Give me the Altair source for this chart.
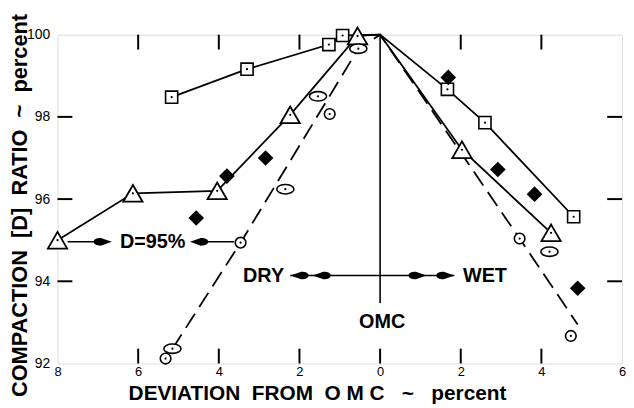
import altair as alt
import pandas as pd

# ---------------- data ----------------
# open squares, solid line
sq_x = [-5.17, -3.30, -1.27, -0.93, 1.67, 2.60, 4.80]
sq_y = [98.48, 99.16, 99.76, 99.98, 98.67, 97.86, 95.57]
# open triangles, solid line
tri_x = [-8.0, -6.13, -4.04, -2.23, -0.56, 2.03, 4.24]
tri_y = [95.0, 96.14, 96.20, 98.05, 99.97, 97.20, 95.18]
# open circles (dashed line series)
cir_x = [-5.32, -3.46, -1.25, 3.46, 4.73]
cir_y = [92.12, 94.94, 98.07, 95.04, 92.67]
# open ellipses
ell_x = [-5.15, -2.35, -1.54, -0.54, 4.20]
ell_y = [92.36, 96.24, 98.50, 99.66, 94.72]
# filled diamonds
dia_x = [-4.56, -3.80, -2.84, 1.69, 2.92, 3.83, 4.90]
dia_y = [95.54, 96.56, 97.00, 98.96, 96.72, 96.12, 93.83]
# OMC apex shared by the lines
apex_x = [0.0]
apex_y = [100.0]
# dashed curve vertices
dash_x = [-5.15, -3.46, -0.54, 0.0, 3.46, 4.90]
dash_y = [92.36, 94.94, 99.66, 100.0, 95.04, 92.95]

# axis ticks
x_ticks = [-8, -6, -4, -2, 0, 2, 4, 6]
y_ticks = [92, 94, 96, 98, 100]
x_inner_bottom = [-6, -4, -2, 0, 2, 4]
x_inner_top = [-6, -4, -2, 2, 4]
y_inner = [94, 96, 98]

# annotations
omc_line_x = [0.0]
omc_line_y = [100.0]
omc_line_y2 = [93.47]
drywet_x = [-2.23]
drywet_x2 = [1.84]
drywet_y = [94.14]
head_right_x = [0.93, 1.62, -6.88]
head_right_y = [94.14, 94.14, 94.96]
head_left_x = [-2.00, -1.45, -4.49]
head_left_y = [94.14, 94.14, 94.96]
d95_x = [-7.75, -4.62]
d95_x2 = [-6.75, -3.62]
d95_y = [94.96, 94.96]
label_text = ["D=95%", "DRY", "WET", "OMC"]
label_x = [-5.64, -2.89, 2.60, 0.05]
label_y = [94.96, 94.12, 94.12, 93.01]

NB = "\u00a0"
x_title = f"DEVIATION{NB}{NB}FROM{NB}{NB}O{NB}M{NB}C{NB}{NB}{NB}~{NB}{NB}{NB}percent"
y_title = f"COMPACTION{NB}{NB}[D]{NB}{NB}RATIO{NB}{NB}~{NB}{NB}percent"

# ---------------- styling ----------------
W, H = 570, 332
FONT = "Liberation Sans"
xs = alt.Scale(domain=[-8, 6], nice=False, zero=False)
ys = alt.Scale(domain=[92, 100], nice=False, zero=False)

x_axis = alt.Axis(values=x_ticks, labelExpr="format(abs(datum.value), 'd')",
                  grid=False, domain=False, ticks=False, tickSize=0,
                  labelFont=FONT, labelFontSize=13, labelColor="black", labelPadding=2,
                  labelFlush=False, labelOverlap=False,
                  title=x_title, titleFont=FONT,
                  titleFontSize=21, titleFontWeight="bold", titleColor="black",
                  titleX=262, titleY=30, titleAlign="center", titleBaseline="middle")
y_axis = alt.Axis(values=y_ticks, grid=False, domain=False, ticks=False, tickSize=0,
                  labelFont=FONT, labelFontSize=14, labelColor="black", labelPadding=8,
                  labelFlush=False, labelOverlap=False,
                  title=y_title, titleFont=FONT,
                  titleFontSize=22, titleFontWeight="bold", titleColor="black",
                  titleAngle=270, titleX=-38, titleY=172, titleAlign="center",
                  titleBaseline="middle")


def X(f="x"):
    return alt.X(f"{f}:Q", scale=xs, axis=x_axis)


def Y(f="y"):
    return alt.Y(f"{f}:Q", scale=ys, axis=y_axis)


def df(xv, yv):
    return pd.DataFrame({"x": xv, "y": yv})


ELLIPSE = "M-1,0A1,0.55,0,1,0,1,0A1,0.55,0,1,0,-1,0Z"
HEAD = "M1,0L-0.2,-0.42C-0.7,-0.42,-1,-0.25,-1,0C-1,0.25,-0.7,0.42,-0.2,0.42Z"

layers = []

# lines
sq_line = df(sq_x + apex_x, sq_y + apex_y)
tri_line = df(tri_x + apex_x, tri_y + apex_y)
layers.append(alt.Chart(sq_line).mark_line(color="black", strokeWidth=1.8).encode(x=X(), y=Y()))
layers.append(alt.Chart(tri_line).mark_line(color="black", strokeWidth=1.8).encode(x=X(), y=Y()))
layers.append(alt.Chart(df(dash_x, dash_y)).mark_line(color="black", strokeWidth=1.8,
                                                      strokeDash=[17, 8]).encode(x=X(), y=Y()))

# OMC vertical line
layers.append(alt.Chart(pd.DataFrame({"x": omc_line_x, "y": omc_line_y, "y2": omc_line_y2}))
              .mark_rule(color="black", strokeWidth=1.6)
              .encode(x=X(), y=Y(), y2="y2:Q"))
# DRY / WET arrow line
layers.append(alt.Chart(pd.DataFrame({"x": drywet_x, "x2": drywet_x2, "y": drywet_y}))
              .mark_rule(color="black", strokeWidth=1.6)
              .encode(x=X(), x2="x2:Q", y=Y()))
# D=95% arrow lines
layers.append(alt.Chart(pd.DataFrame({"x": d95_x, "x2": d95_x2, "y": d95_y}))
              .mark_rule(color="black", strokeWidth=1.6)
              .encode(x=X(), x2="x2:Q", y=Y()))
# arrow heads
layers.append(alt.Chart(df(head_right_x, head_right_y))
              .mark_point(shape=HEAD, filled=True, color="black", size=340, opacity=1)
              .encode(x=X(), y=Y()))
layers.append(alt.Chart(df(head_left_x, head_left_y))
              .mark_point(shape=HEAD, filled=True, color="black", size=340, opacity=1, angle=180)
              .encode(x=X(), y=Y()))

# inner ticks
layers.append(alt.Chart(pd.DataFrame({"x": x_inner_bottom})).mark_rule(color="black", strokeWidth=2)
              .encode(x=X(), y=alt.value(H), y2=alt.value(H - 15)))
layers.append(alt.Chart(pd.DataFrame({"x": x_inner_top})).mark_rule(color="black", strokeWidth=2)
              .encode(x=X(), y=alt.value(0), y2=alt.value(15)))
layers.append(alt.Chart(pd.DataFrame({"y": y_inner})).mark_rule(color="black", strokeWidth=2)
              .encode(y=Y(), x=alt.value(0), x2=alt.value(15)))
layers.append(alt.Chart(pd.DataFrame({"y": y_inner})).mark_rule(color="black", strokeWidth=2)
              .encode(y=Y(), x=alt.value(W), x2=alt.value(W - 15)))

# markers
layers.append(alt.Chart(df(sq_x, sq_y)).mark_point(shape="square", filled=True, fill="white",
                                                   stroke="black", strokeWidth=1.6, size=150, opacity=1)
              .encode(x=X(), y=Y()))
layers.append(alt.Chart(df(tri_x, tri_y)).mark_point(shape="triangle-up", filled=True, fill="white",
                                                     stroke="black", strokeWidth=1.8, size=380, opacity=1)
              .encode(x=X(), y=Y()))
layers.append(alt.Chart(df(cir_x, cir_y)).mark_point(shape="circle", filled=True, fill="white",
                                                     stroke="black", strokeWidth=1.6, size=115, opacity=1)
              .encode(x=X(), y=Y()))
layers.append(alt.Chart(df(ell_x, ell_y)).mark_point(shape=ELLIPSE, filled=True, fill="white",
                                                     stroke="black", strokeWidth=1.6, size=300, opacity=1)
              .encode(x=X(), y=Y()))
layers.append(alt.Chart(df(dia_x, dia_y)).mark_point(shape="diamond", filled=True, color="black",
                                                     size=250, opacity=1)
              .encode(x=X(), y=Y()))
# centre dots of the open markers
layers.append(alt.Chart(df(sq_x + tri_x + cir_x + ell_x, sq_y + tri_y + cir_y + ell_y))
              .mark_point(shape="circle", filled=True, color="black", size=5, opacity=1)
              .encode(x=X(), y=Y()))

# annotation texts
layers.append(alt.Chart(pd.DataFrame({"x": label_x, "y": label_y, "t": label_text}))
              .mark_text(font=FONT, fontSize=20, fontWeight="bold", color="black",
                         align="center", baseline="middle")
              .encode(x=X(), y=Y(), text="t:N"))

chart = alt.layer(*layers).properties(
    width=W, height=H,
    padding={"left": 50, "top": 25, "right": 4, "bottom": 43},
    autosize=alt.AutoSizeParams(type="none"),
).configure_view(stroke="black", strokeWidth=2).configure(background="white")

chart.save("out.html", embed_options={"renderer": "svg", "actions": False})
